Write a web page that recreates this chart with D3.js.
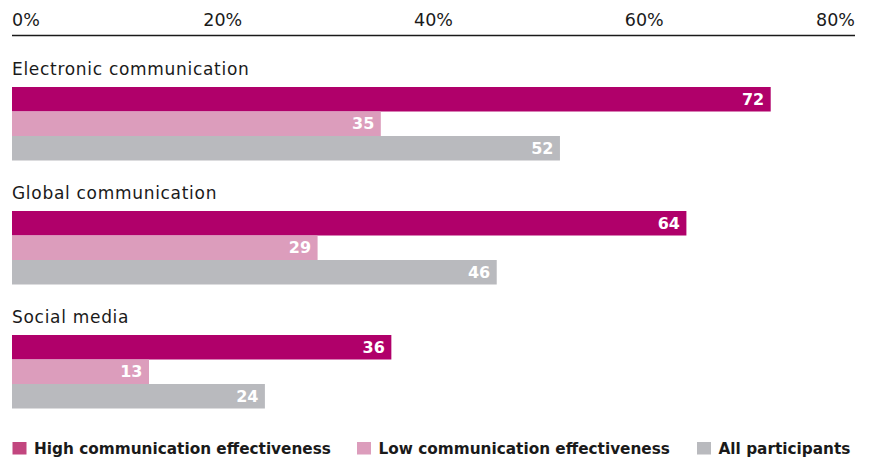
<!DOCTYPE html>
<html>
<head>
<meta charset="utf-8">
<script src="https://cdn.jsdelivr.net/npm/d3@7"></script>
<style>
  html, body { margin: 0; padding: 0; background: #fff; }
  svg { display: block; font-family: "DejaVu Sans", sans-serif; }
</style>
</head>
<body>
<svg id="chart" width="872" height="460"></svg>
<script>
// Share of respondents, by communication channel and group
const categories = ["Electronic communication", "Global communication", "Social media"];
const seriesNames = ["High communication effectiveness", "Low communication effectiveness", "All participants"];
const highValues = [72, 64, 36];
const lowValues = [35, 29, 13];
const allValues = [52, 46, 24];
const tickValues = [0, 20, 40, 60, 80];
const colors = ["#b0006a", "#dc9dbc", "#b9babe"];
const legendColors = ["#c2467f", "#dc9dbc", "#b9babe"];

const series = [highValues, lowValues, allValues];

const svg = d3.select("#chart");
const x = d3.scaleLinear().domain([0, 80]).range([12, 855]);

// Axis on top: line plus percentage labels
svg.append("line")
  .attr("x1", x(0)).attr("x2", x(80))
  .attr("y1", 35.5).attr("y2", 35.5)
  .attr("stroke", "#1a1a1a").attr("stroke-width", 1.3);

svg.selectAll(".tick-label")
  .data(tickValues)
  .join("text")
  .attr("class", "tick-label")
  .attr("x", d => x(d))
  .attr("y", 25.5)
  .attr("text-anchor", (d, i) => i === 0 ? "start" : (i === tickValues.length - 1 ? "end" : "middle"))
  .attr("font-size", 17.5)
  .attr("fill", "#1a1a1a")
  .text(d => d + "%");

// Category groups
const groupY = d3.scaleBand().domain(categories).range([62, 434]).paddingInner(0).paddingOuter(0);
const barY = d3.scaleBand().domain(d3.range(series.length)).range([25, 98.5]);

const groups = svg.selectAll(".group")
  .data(categories)
  .join("g")
  .attr("class", "group")
  .attr("transform", d => `translate(0,${groupY(d)})`);

groups.append("text")
  .attr("x", 12)
  .attr("y", 12.5)
  .attr("font-size", 17)
  .attr("letter-spacing", 0.7)
  .attr("fill", "#1a1a1a")
  .text(d => d);

groups.each(function(cat, ci) {
  const g = d3.select(this);
  series.forEach((vals, si) => {
    const v = vals[ci];
    g.append("rect")
      .attr("x", x(0))
      .attr("y", barY(si))
      .attr("width", x(v) - x(0))
      .attr("height", barY.bandwidth())
      .attr("fill", colors[si]);
    g.append("text")
      .attr("x", x(v) - 6.5)
      .attr("y", barY(si) + barY.bandwidth() / 2 + 5.5)
      .attr("text-anchor", "end")
      .attr("font-size", 16)
      .attr("font-weight", "bold")
      .attr("fill", "#fff")
      .text(v);
  });
});

// Legend
const legendX = [12.5, 357, 697];
const legend = svg.selectAll(".legend")
  .data(seriesNames)
  .join("g")
  .attr("class", "legend")
  .attr("transform", (d, i) => `translate(${legendX[i]},442)`);

legend.append("rect")
  .attr("width", 14).attr("height", 12.5)
  .attr("fill", (d, i) => legendColors[i]);

legend.append("text")
  .attr("x", 21.5)
  .attr("y", 12)
  .attr("font-size", 15.3)
  .attr("font-weight", "bold")
  .attr("fill", "#1a1a1a")
  .text(d => d);
</script>
</body>
</html>
